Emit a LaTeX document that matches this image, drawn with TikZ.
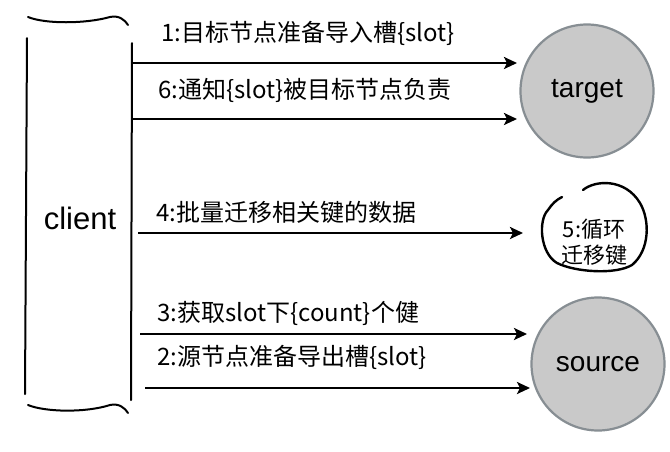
\documentclass[tikz,border=0pt]{standalone}
\usepackage{fontspec}
\setmainfont{Liberation Sans}
\newfontfamily\cjk{Noto Sans CJK SC}
\usetikzlibrary{arrows.meta}
\definecolor{nodefill}{RGB}{201,201,201}
\definecolor{nodeline}{RGB}{135,142,147}
\tikzset{
  brk/.style={line width=2pt, line cap=round},
  msg/.style={line width=2.6pt, -{Stealth[length=13pt,width=12pt,inset=3pt]}},
  lbl/.style={anchor=west, font=\cjk\fontsize{24}{28}\selectfont, inner sep=0pt},
  srv/.style={circle, draw=nodeline, fill=nodefill, line width=2.2pt, minimum size=133pt, inner sep=0pt, font=\fontsize{28}{32}\selectfont},
}
\begin{document}
\begin{tikzpicture}[x=1pt,y=-1pt]
\useasboundingbox[fill=white] (0,0) rectangle (670,451);
% client bracket
\draw[brk] (28,17) .. controls (45,24) and (85,24) .. (110,17) .. controls (119,15) and (125,20) .. (128,25);
\draw[brk] (28,405) .. controls (45,412) and (85,413) .. (110,405) .. controls (119,403) and (125,408) .. (128,413);
\draw[brk] (27,38) -- (25,394);
\draw[brk] (132,43) -- (131,400);
\node[font=\fontsize{31}{34}\selectfont, inner sep=0pt] (client) at (80,218) {client};
% servers
\node[srv] (target) at (587,91) {target};
\node[srv] (source) at (598,364) {source};
% loop note
\node[font=\cjk\fontsize{22}{26}\selectfont, align=center, inner sep=0pt] (loop) at (594,242) {5:循环\\迁移键};
\draw[line width=2.4pt, line cap=round] (583,190) .. controls (595,180) and (625,178) .. (640,203)
  .. controls (650,220) and (650,250) .. (632,265)
  .. controls (615,275) and (575,272) .. (557,263)
  .. controls (540,253) and (538,220) .. (548,210)
  .. controls (552,204) and (556,200) .. (562,197);
% arrow coordinates
\coordinate (s1) at (132,63);  \coordinate (e1) at (517,63);
\coordinate (s6) at (132,119); \coordinate (e6) at (517,119);
\coordinate (s4) at (138,233); \coordinate (e4) at (523,233);
\coordinate (s3) at (140,334); \coordinate (e3) at (527,334);
\coordinate (s2) at (145,388); \coordinate (e2) at (530,388);
\draw[msg] (s1) -- (e1);
\draw[msg] (s6) -- (e6);
\draw[msg] (s4) -- (e4);
\draw[msg] (s3) -- (e3);
\draw[msg] (s2) -- (e2);
% labels
\node[lbl] (l1) at (161,33) {1:目标节点准备导入槽\{slot\}};
\node[lbl] (l6) at (158,90) {6:通知\{slot\}被目标节点负责};
\node[lbl] (l4) at (156,212) {4:批量迁移相关键的数据};
\node[lbl] (l3) at (157,313) {3:获取slot下\{count\}个健};
\node[lbl] (l2) at (157,357) {2:源节点准备导出槽\{slot\}};
\end{tikzpicture}
\end{document}
